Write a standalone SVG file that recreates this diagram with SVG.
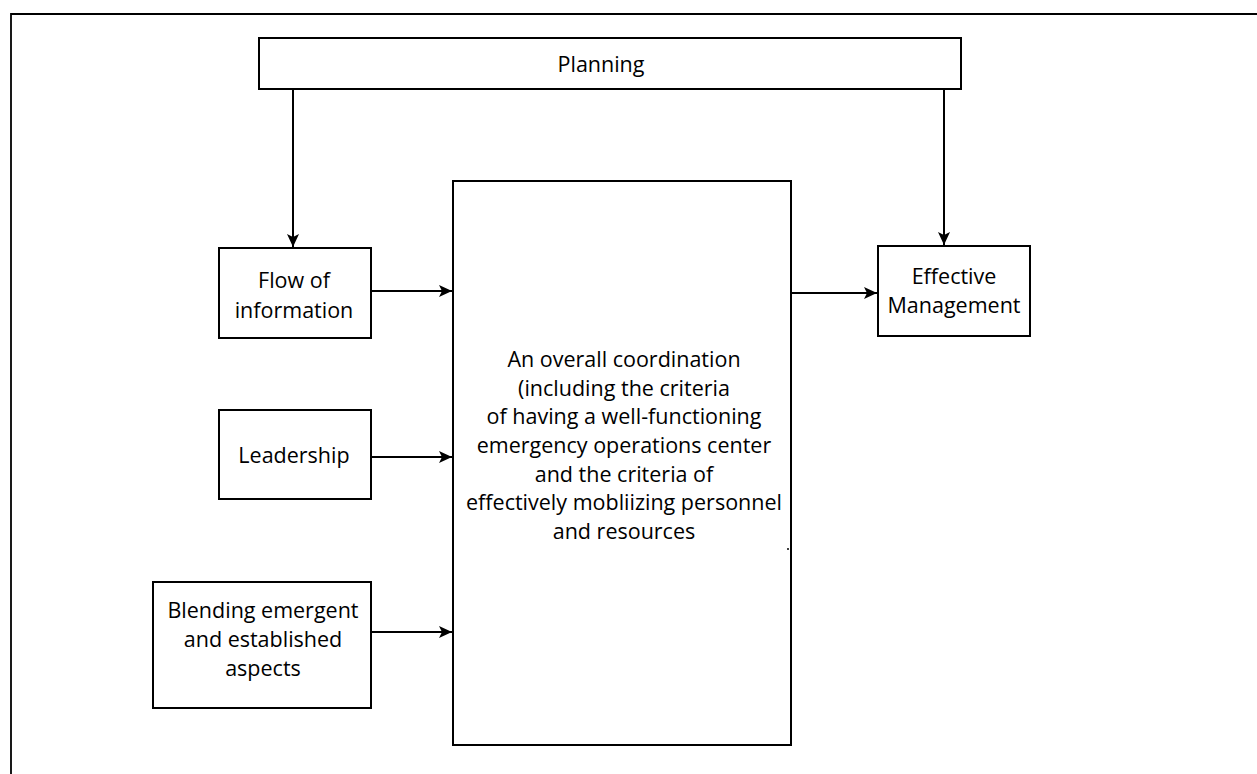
<svg xmlns="http://www.w3.org/2000/svg" width="1257" height="774" viewBox="0 0 1257 774">
<style>
.box{fill:#fff;stroke:#000;stroke-width:2}
.frame{fill:none;stroke:#000;stroke-width:1.8}
.lbl{font-family:"Open Sans","Liberation Sans",sans-serif;font-size:21.5px;fill:#000;text-anchor:middle}
.con{fill:none;stroke:#000;stroke-width:2}
</style>
<defs>
<marker id="ah" viewBox="0 0 13 12" refX="13" refY="6" markerWidth="13" markerHeight="12" markerUnits="userSpaceOnUse" orient="auto">
<path d="M0,0 L13,6 L0,12 L3,6 Z" fill="#000"/>
</marker>
</defs>
<rect width="1257" height="774" fill="#fff"/>
<path class="frame" d="M1257,14 H11 V774"/>
<g id="planning">
<rect class="box" x="259" y="38" width="702" height="51"/>
<text class="lbl" x="601" y="72">Planning</text>
</g>
<g id="flow">
<rect class="box" x="219" y="248" width="152" height="90"/>
<text class="lbl" x="294" y="288">Flow of</text>
<text class="lbl" x="294" y="318">information</text>
</g>
<g id="leadership">
<rect class="box" x="219" y="410" width="152" height="89"/>
<text class="lbl" x="294" y="463">Leadership</text>
</g>
<g id="blending">
<rect class="box" x="153" y="582" width="218" height="126"/>
<text class="lbl" x="263" y="618">Blending emergent</text>
<text class="lbl" x="263" y="647">and established</text>
<text class="lbl" x="263" y="676">aspects</text>
</g>
<g id="coordination">
<rect class="box" x="453" y="181" width="338" height="564"/>
<text class="lbl" x="624" y="367">An overall coordination</text>
<text class="lbl" x="624" y="396">(including the criteria</text>
<text class="lbl" x="624" y="424">of having a well-functioning</text>
<text class="lbl" x="624" y="453">emergency operations center</text>
<text class="lbl" x="624" y="482">and the criteria of</text>
<text class="lbl" x="624" y="510">effectively mobliizing personnel</text>
<text class="lbl" x="624" y="539">and resources</text>
<circle cx="788" cy="549" r="1" fill="#000"/>
</g>
<g id="effective">
<rect class="box" x="878" y="246" width="152" height="90"/>
<text class="lbl" x="954" y="284">Effective</text>
<text class="lbl" x="954" y="313">Management</text>
</g>
<g id="connectors">
<path class="con" d="M293,89 V247" marker-end="url(#ah)"/>
<path class="con" d="M944,89 V245" marker-end="url(#ah)"/>
<path class="con" d="M371,291 H452" marker-end="url(#ah)"/>
<path class="con" d="M371,457 H452" marker-end="url(#ah)"/>
<path class="con" d="M371,632 H452" marker-end="url(#ah)"/>
<path class="con" d="M791,293 H877" marker-end="url(#ah)"/>
</g>
</svg>
